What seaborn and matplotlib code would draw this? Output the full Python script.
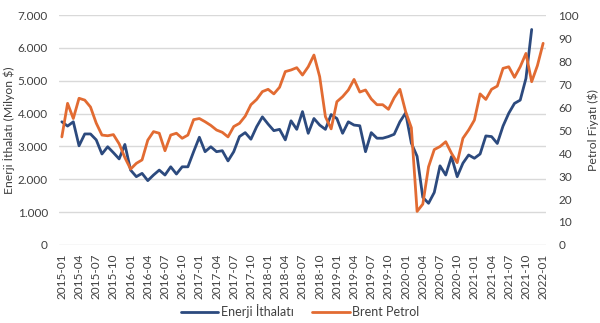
import numpy as np
import pandas as pd
import matplotlib
matplotlib.use("Agg")
import matplotlib.pyplot as plt
import seaborn as sns
from matplotlib.ticker import FuncFormatter, MultipleLocator

# ---- data ----
months = [d.strftime("%Y-%m") for d in pd.date_range("2015-01-01", "2022-01-01", freq="MS")]

energy_import = [3750, 3620, 3750, 3020, 3380, 3380, 3200, 2770, 2990, 2810, 2620, 3060,
                 2280, 2080, 2180, 1960, 2130, 2280, 2130, 2380, 2160, 2380, 2380, 2840,
                 3280, 2840, 2990, 2840, 2870, 2560, 2840, 3300, 3420, 3220, 3600, 3900,
                 3680, 3480, 3520, 3200, 3780, 3520, 4060, 3400, 3850, 3650, 3520, 3970,
                 3850, 3400, 3750, 3650, 3630, 2840, 3420, 3250, 3250, 3300, 3370, 3750,
                 4020, 3100, 2700, 1450, 1270, 1600, 2410, 2130, 2690, 2080, 2490, 2740,
                 2640, 2770, 3320, 3300, 3090, 3620, 4010, 4310, 4410, 5070, 6560]

brent = [47.0, 61.6, 55.0, 63.8, 63.0, 60.0, 53.0, 47.8, 47.5, 48.0, 44.0, 38.0,
         33.0, 35.5, 37.0, 45.6, 49.3, 48.6, 41.0, 47.8, 48.6, 46.4, 47.8, 54.5,
         55.0, 53.6, 52.0, 50.0, 49.0, 47.0, 51.5, 52.9, 56.0, 61.0, 63.3, 66.7,
         67.7, 65.7, 68.6, 75.4, 76.1, 77.1, 73.9, 77.5, 82.6, 73.2, 55.8, 50.5,
         62.3, 64.5, 67.4, 72.0, 66.5, 67.4, 63.5, 61.0, 61.0, 59.0, 64.0, 67.7,
         58.0, 51.0, 14.6, 17.8, 34.0, 41.5, 42.8, 44.9, 39.9, 35.8, 46.4, 50.0,
         54.3, 65.7, 63.3, 67.7, 69.1, 76.8, 77.5, 72.9, 77.5, 83.3, 71.0, 78.0, 87.7]

left_label = "Enerji İthalatı (Milyon $)"
right_label = "Petrol Fiyatı ($)"
series_names = ["Enerji İthalatı", "Brent Petrol"]

# ---- style ----
sns.set_theme(style="white")
plt.rcParams["font.family"] = ["Lato", "DejaVu Sans"]

blue = "#2c4a7e"
orange = "#e26b32"
txt = "#404040"

fig = plt.figure(figsize=(6.0, 3.23), dpi=100)
fig.patch.set_facecolor("white")
ax = fig.add_axes([0.0983, 0.2415, 0.8117, 0.712])
ax2 = ax.twinx()

df1 = pd.DataFrame({"x": np.arange(len(energy_import)), "y": energy_import})
df2 = pd.DataFrame({"x": np.arange(len(brent)), "y": brent})

sns.lineplot(data=df1, x="x", y="y", ax=ax, color=blue, linewidth=2.0,
             label=series_names[0], legend=False)
sns.lineplot(data=df2, x="x", y="y", ax=ax2, color=orange, linewidth=2.0,
             label=series_names[1], legend=False)

ax.set_xlim(-0.5, len(months) - 0.5)
ax.set_ylim(0, 7000)
ax2.set_ylim(0, 100)
ax.yaxis.set_major_locator(MultipleLocator(1000))
ax2.yaxis.set_major_locator(MultipleLocator(10))
ax.yaxis.set_major_formatter(FuncFormatter(lambda v, p: f"{int(v):,}".replace(",", ".")))

tick_pos = list(range(0, len(months), 3))
ax.set_xticks(tick_pos)
ax.set_xticklabels([months[i] for i in tick_pos], rotation=90, fontsize=8.5, color=txt)

ax.grid(axis="y", color="#d9d9d9", linewidth=1.0)
ax.grid(axis="x", visible=False)
ax2.grid(False)
for a in (ax, ax2):
    for s in a.spines.values():
        s.set_visible(False)
    a.tick_params(length=0)
    a.set_xlabel("")

ax.tick_params(axis="y", labelsize=8.5, labelcolor=txt, pad=8)
ax2.tick_params(axis="y", labelsize=8.5, labelcolor=txt, pad=9)
ax.tick_params(axis="x", pad=6)

ax.set_ylabel(left_label, fontsize=8.8, color=txt, labelpad=2)
ax2.set_ylabel(right_label, fontsize=8.8, color=txt, labelpad=6)

h1, l1 = ax.get_legend_handles_labels()
h2, l2 = ax2.get_legend_handles_labels()
fig.legend(h1 + h2, l1 + l2, loc="lower center", bbox_to_anchor=(0.5, -0.02), ncol=2,
           frameon=False, fontsize=9, handlelength=3.0, handletextpad=0.2,
           columnspacing=1.5, labelcolor=txt)

fig.savefig("out.png", dpi=100, facecolor="white")
